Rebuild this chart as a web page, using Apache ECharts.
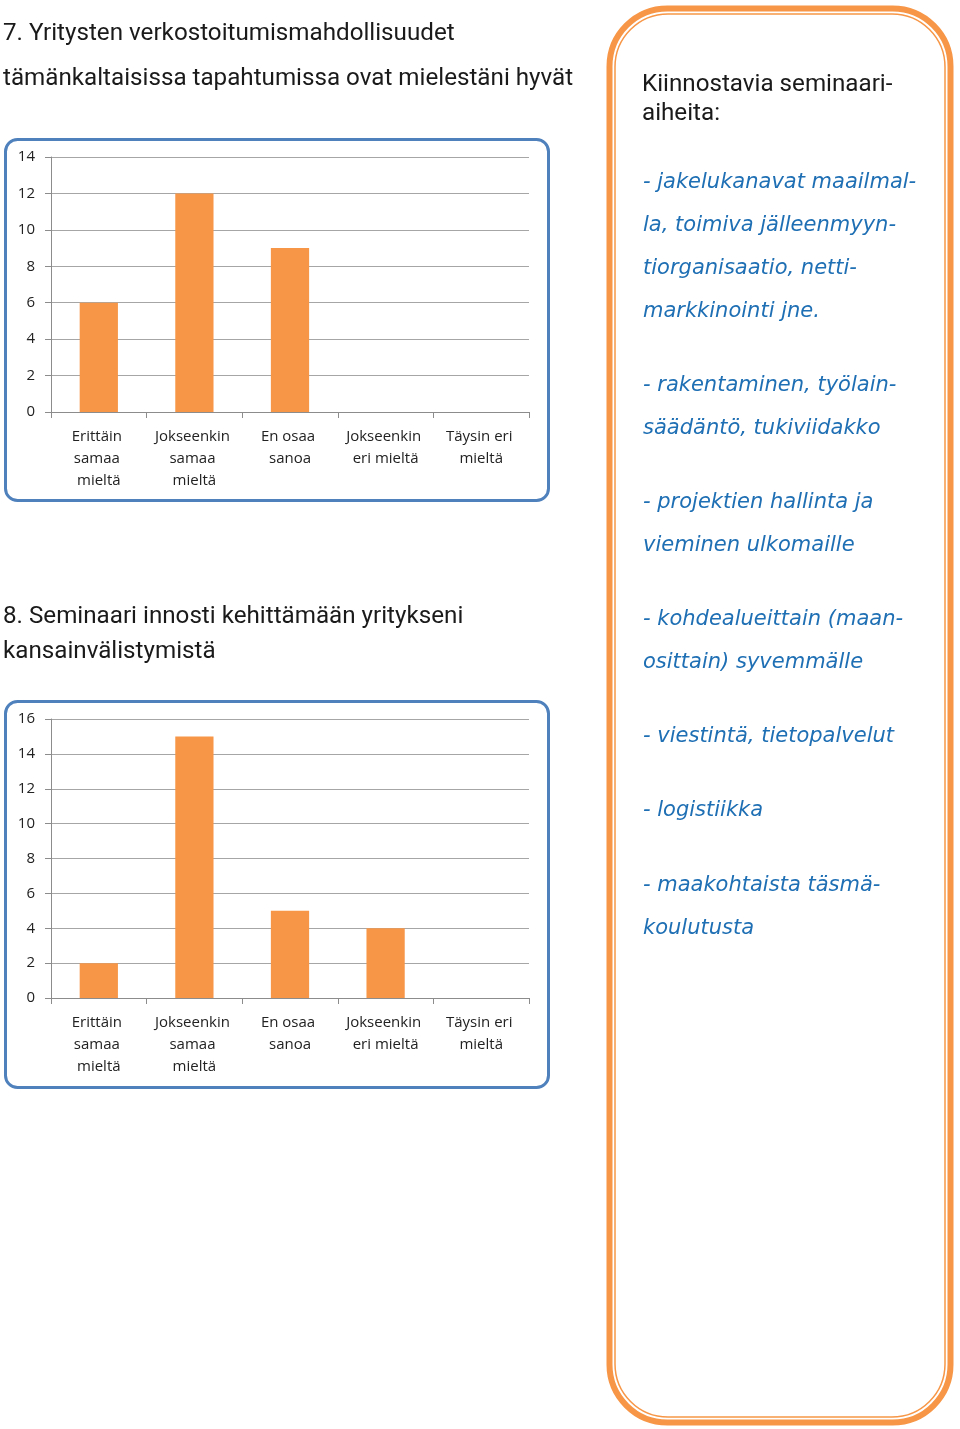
<!DOCTYPE html>
<html><head><meta charset="utf-8">
<script src="https://cdn.jsdelivr.net/npm/echarts@6/dist/echarts.min.js"></script>
<style>html,body{margin:0;padding:0;background:#fff}#c{width:960px;height:1429px}</style>
</head><body><div id="c"></div>
<script>
var categories = ["Erittäin samaa mieltä", "Jokseenkin samaa mieltä", "En osaa sanoa", "Jokseenkin eri mieltä", "Täysin eri mieltä"];
var values1 = [6, 12, 9, 0, 0];
var values2 = [2, 15, 5, 4, 0];
var title1 = ["7. Yritysten verkostoitumismahdollisuudet", "tämänkaltaisissa tapahtumissa ovat mielestäni hyvät"];
var title2 = ["8. Seminaari innosti kehittämään yritykseni", "kansainvälistymistä"];
var boxTitle = ["Kiinnostavia seminaari-", "aiheita:"];
var topics = [
  ["- jakelukanavat maailmal-", "la, toimiva jälleenmyyn-", "tiorganisaatio, netti-", "markkinointi jne."],
  ["- rakentaminen, työlain-", "säädäntö, tukiviidakko"],
  ["- projektien hallinta ja", "vieminen ulkomaille"],
  ["- kohdealueittain (maan-", "osittain) syvemmälle"],
  ["- viestintä, tietopalvelut"],
  ["- logistiikka"],
  ["- maakohtaista täsmä-", "koulutusta"]
];

var chart = echarts.init(document.getElementById('c'), null, {renderer: 'canvas'});
var FONT = "'Open Sans', sans-serif";
var ORANGE = '#F79646';
var BLUE_BOX = '#4F81BD';
var GRID_C = '#A6A6A6';

function xAxis(idx) {
  return {
    type: 'category', gridIndex: idx, data: categories,
    axisLine: {lineStyle: {color: '#8C8C8C', width: 1}},
    axisTick: {show: true, length: 6, alignWithLabel: false, lineStyle: {color: '#8C8C8C'}},
    axisLabel: {color: '#222', fontFamily: FONT, fontSize: 15, margin: 14, lineHeight: 22,
      interval: 0, width: 86, overflow: 'break'}
  };
}
function yAxis(idx, max) {
  return {
    type: 'value', gridIndex: idx, min: 0, max: max, interval: 2,
    axisLine: {show: true, lineStyle: {color: '#8C8C8C', width: 1}},
    axisTick: {show: true, length: 6, lineStyle: {color: '#8C8C8C'}},
    splitLine: {lineStyle: {color: GRID_C, width: 1}},
    axisLabel: {color: '#222', fontFamily: FONT, fontSize: 15, margin: 16}
  };
}

var graphics = [];
function txt(x, y, s, style) {
  graphics.push({type: 'text', x: x, y: y, style: Object.assign({text: s, textVerticalAlign: 'middle', fill: '#222'}, style)});
}
// chart frames
graphics.push({type: 'rect', shape: {x: 5.5, y: 139.5, width: 543, height: 361, r: 12}, style: {fill: null, stroke: BLUE_BOX, lineWidth: 3}, z: -1});
graphics.push({type: 'rect', shape: {x: 5.5, y: 701.5, width: 543, height: 386, r: 12}, style: {fill: null, stroke: BLUE_BOX, lineWidth: 3}, z: -1});
// orange box
graphics.push({type: 'rect', shape: {x: 609.5, y: 8.5, width: 341, height: 1414, r: 58}, style: {fill: null, stroke: ORANGE, lineWidth: 6}});
graphics.push({type: 'rect', shape: {x: 615, y: 14, width: 330, height: 1403, r: 53}, style: {fill: null, stroke: ORANGE, lineWidth: 1.5}});

var titleStyle = {font: "24.2px 'Roboto', sans-serif", fill: '#1a1a1a'};
txt(3, 34, title1[0], titleStyle);
txt(3, 79, title1[1], titleStyle);
txt(3, 617, title2[0], titleStyle);
txt(3, 652, title2[1], titleStyle);
txt(642, 85, boxTitle[0], titleStyle);
txt(642, 114, boxTitle[1], titleStyle);

var topicStyle = {font: "italic 21px 'DejaVu Sans', sans-serif", fill: '#1E6FB4'};
var topicStarts = [183, 386, 503, 620, 737, 811, 886];
topics.forEach(function (lines, i) {
  lines.forEach(function (l, j) {
    txt(643, topicStarts[i] + j * 43, l, topicStyle);
  });
});

chart.setOption({
  animation: false,
  grid: [
    {left: 51, width: 478, top: 157, height: 255},
    {left: 51, width: 478, top: 719, height: 279}
  ],
  xAxis: [xAxis(0), xAxis(1)],
  yAxis: [yAxis(0, 14), yAxis(1, 16)],
  series: [
    {type: 'bar', xAxisIndex: 0, yAxisIndex: 0, data: values1, barWidth: '40%', itemStyle: {color: ORANGE}},
    {type: 'bar', xAxisIndex: 1, yAxisIndex: 1, data: values2, barWidth: '40%', itemStyle: {color: ORANGE}}
  ],
  graphic: graphics
});
</script></body></html>
